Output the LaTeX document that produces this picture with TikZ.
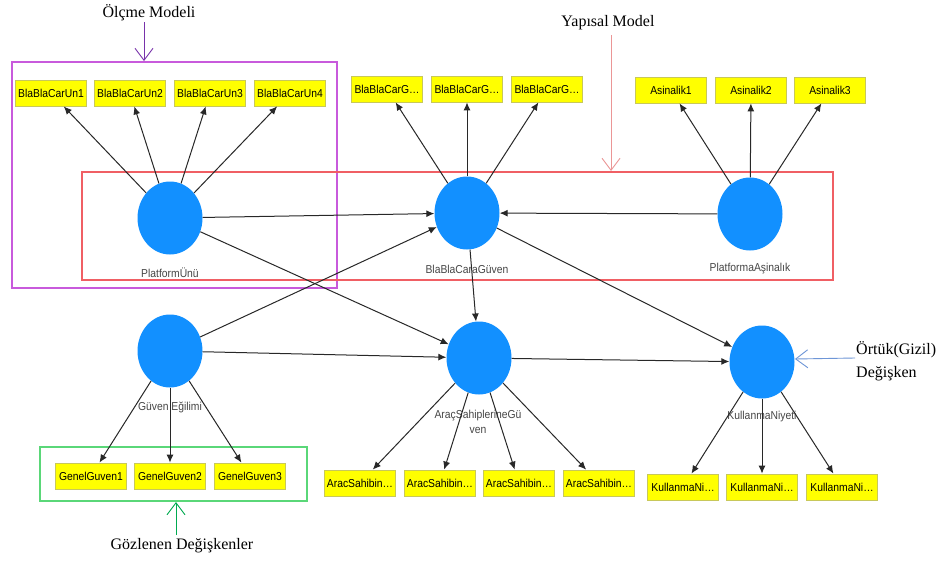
\documentclass[tikz,border=0pt]{standalone}
\usepackage{fontspec}
\setmainfont{Liberation Serif}
\setsansfont{Liberation Sans}
\newfontfamily\uifont[FakeStretch=0.9]{Liberation Sans}
\usetikzlibrary{shapes.geometric,arrows.meta}
\definecolor{latentblue}{RGB}{18,144,255}
\definecolor{indyellow}{RGB}{255,255,0}
\definecolor{indborder}{RGB}{200,200,90}
\definecolor{linegray}{RGB}{40,40,40}
\definecolor{labgray}{RGB}{70,70,70}
\definecolor{boxpurple}{RGB}{200,90,220}
\definecolor{arrpurple}{RGB}{120,50,170}
\definecolor{boxred}{RGB}{240,95,100}
\definecolor{arrred}{RGB}{235,150,150}
\definecolor{boxgreen}{RGB}{90,215,120}
\definecolor{arrgreen}{RGB}{0,170,80}
\definecolor{arrblue}{RGB}{110,150,215}
\begin{document}
\begin{tikzpicture}[x=1pt,y=-1pt,
  latent/.style={ellipse, fill=latentblue, minimum width=65pt, minimum height=73pt, inner sep=0pt},
  ind/.style={draw=indborder, line width=0.8pt, fill=indyellow, minimum width=71pt, minimum height=26pt, inner sep=0pt, font=\uifont\fontsize{11.5}{13}\selectfont},
  lab/.style={font=\uifont\fontsize{11.5}{13}\selectfont, text=labgray, inner sep=1pt},
  conn/.style={draw=linegray, line width=1pt, -{Latex[length=8pt,width=7pt]}},
  note/.style={font=\rmfamily\fontsize{16}{23}\selectfont, inner sep=0pt},
  notearrow/.style={line width=0.9pt, -{Straight Barb[length=12pt,width=18pt]}},
  frame/.style={line width=1.2pt},
]
\useasboundingbox[fill=white] (0,0) rectangle (940,563);

% frames
\draw[frame, draw=boxpurple] (12,62) rectangle (337,288);
\draw[frame, draw=boxred] (82,172) rectangle (833,280);
\draw[frame, draw=boxgreen] (40,447) rectangle (307,501);

% indicators
\node[ind] (u1) at (51,93) {BlaBlaCarUn1};
\node[ind] (u2) at (130,93) {BlaBlaCarUn2};
\node[ind] (u3) at (210,93) {BlaBlaCarUn3};
\node[ind] (u4) at (290,93) {BlaBlaCarUn4};
\node[ind] (g1) at (387,89) {BlaBlaCarG…};
\node[ind] (g2) at (467,89) {BlaBlaCarG…};
\node[ind] (g3) at (547,89) {BlaBlaCarG…};
\node[ind] (a1) at (671,90) {Asinalik1};
\node[ind] (a2) at (751,90) {Asinalik2};
\node[ind] (a3) at (830,90) {Asinalik3};
\node[ind] (e1) at (91,476) {GenelGuven1};
\node[ind] (e2) at (170,476) {GenelGuven2};
\node[ind] (e3) at (250,476) {GenelGuven3};
\node[ind] (s1) at (360,483) {AracSahibin…};
\node[ind] (s2) at (440,483) {AracSahibin…};
\node[ind] (s3) at (519,483) {AracSahibin…};
\node[ind] (s4) at (599,483) {AracSahibin…};
\node[ind] (k1) at (683,487) {KullanmaNi…};
\node[ind] (k2) at (762,487) {KullanmaNi…};
\node[ind] (k3) at (842,487) {KullanmaNi…};

% latent variables
\node[latent] (pu) at (170,218) {};
\node[latent] (bg) at (467,213) {};
\node[latent] (pa) at (750,214) {};
\node[latent] (ge) at (170,351) {};
\node[latent] (as) at (479,358) {};
\node[latent] (kn) at (762,362) {};

% latent labels
\node[lab] (lpu) at (170,273) {PlatformÜnü};
\node[lab] (lbg) at (467,269) {BlaBlaCaraGüven};
\node[lab] (lpa) at (750,269) {PlatformaAşinalık};
\node[lab] (lge) at (170,407) {Güven Eğilimi};
\node[lab, align=center, font=\uifont\fontsize{11.5}{15}\selectfont] (las) at (478,422) {AraçSahiplerineGü\\ven};
\node[lab] (lkn) at (762,417) {KullanmaNiyeti};

% measurement arrows
\foreach \t in {u1,u2,u3,u4} \draw[conn] (pu) -- (\t);
\foreach \t in {g1,g2,g3} \draw[conn] (bg) -- (\t);
\foreach \t in {a1,a2,a3} \draw[conn] (pa) -- (\t);
\foreach \t in {e1,e2,e3} \draw[conn] (ge) -- (\t);
\foreach \t in {s1,s2,s3,s4} \draw[conn] (as) -- (\t);
\foreach \t in {k1,k2,k3} \draw[conn] (kn) -- (\t);

% structural arrows
\draw[conn] (pu) -- (bg);
\draw[conn] (pa) -- (bg);
\draw[conn] (pu) -- (as);
\draw[conn] (ge) -- (bg);
\draw[conn] (ge) -- (as);
\draw[conn] (bg) -- (as);
\draw[conn] (bg) -- (kn);
\draw[conn] (as) -- (kn);

% annotations
\node[note] (olcme) at (149,13) {Ölçme Modeli};
\coordinate (olcA) at (144,22);
\coordinate (olcB) at (144,61);
\draw[notearrow, draw=arrpurple] (olcA) -- (olcB);

\node[note] (yapisal) at (608,23) {Yapısal Model};
\coordinate (yapA) at (611,35);
\coordinate (yapB) at (611,171);
\draw[notearrow, draw=arrred] (yapA) -- (yapB);

\node[note] (gozlenen) at (182,546) {Gözlenen Değişkenler};
\coordinate (gozA) at (176,535);
\coordinate (gozB) at (176,502);
\draw[notearrow, draw=arrgreen] (gozA) -- (gozB);

\node[note, anchor=west, align=left] (ortuk) at (856,361) {Örtük(Gizil)\\Değişken};
\coordinate (ortA) at (855,358);
\coordinate (ortB) at (795,359);
\draw[notearrow, draw=arrblue] (ortA) -- (ortB);
\end{tikzpicture}
\end{document}
